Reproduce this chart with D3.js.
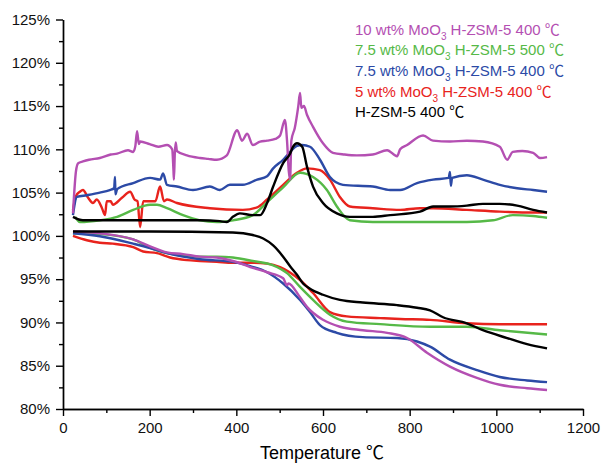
<!DOCTYPE html>
<html>
<head>
<meta charset="utf-8">
<script src="https://cdn.jsdelivr.net/npm/d3@7"></script>
<style>
  body { margin: 0; background: #fff; }
  svg { font-family: "Liberation Sans", Arial, sans-serif; }
  .axis path, .axis line { stroke: #000; stroke-width: 1.4; }
  .axis text { font-size: 15px; fill: #111; }
  .cel { font-family: "Noto Sans CJK SC", sans-serif; }
</style>
</head>
<body>
<div id="chart"></div>
<script>
// ---- data: [temperature (°C), weight %] ----
const mUp = [[23,102.6],[30,107.5],[35,108.4],[46,108.6],[60,108.8],[85,109.0],[110,109.4],[125,109.5],[150,109.9],[162,109.7],[167,110.4],[171,112.1],[175,110.6],[178,110.9],[200,110.6],[220,110.3],[240,110.5],[252,110.0],[255,107.5],[256,106.5],[258,109.5],[260,110.8],[263,109.8],[286,109.3],[316,109.0],[335,108.9],[355,108.8],[378,109.3],[402,112.2],[413,111.0],[425,111.8],[438,110.5],[455,110.9],[471,111.0],[490,111.2],[501,111.6],[512,113.4],[517,111.0],[521,107.5],[524,106.5],[527,111.0],[535,112.5],[543,115.0],[547,116.5],[550,114.8],[556,115.0],[563,114.0],[577,112.6],[600,110.7],[623,109.6],[650,109.4],[678,109.3],[715,109.4],[748,109.9],[771,109.2],[778,110.0],[794,110.5],[831,111.6],[854,111.0],[893,110.9],[932,111.0],[969,110.9],[1008,110.3],[1025,108.8],[1038,109.7],[1060,109.8],[1085,109.6],[1101,109.0],[1117,109.1]];
const gUp = [[28,102.2],[39,101.6],[85,101.8],[125,102.2],[162,103.0],[201,103.6],[217,103.6],[240,103.2],[277,102.4],[316,101.8],[355,101.6],[392,101.8],[438,102.4],[471,103.9],[508,105.6],[547,107.3],[577,106.8],[609,105.3],[632,103.4],[662,101.8],[715,101.6],[824,101.6],[932,101.6],[992,101.8],[1038,102.4],[1085,102.3],[1117,102.1]];
const bUp = [[23,102.4],[32,104.5],[55,104.7],[85,105.0],[108,105.3],[118,105.5],[120,106.8],[121,104.8],[125,105.4],[162,106.1],[201,106.7],[224,106.5],[231,107.2],[240,105.9],[263,105.7],[300,105.3],[339,105.7],[362,105.3],[385,105.9],[415,105.9],[448,106.5],[471,106.9],[485,107.8],[508,108.8],[524,109.7],[540,110.4],[552,110.5],[570,110.3],[593,108.8],[616,106.8],[646,105.9],[715,105.7],[755,105.3],[778,105.3],[817,106.1],[854,106.5],[890,106.7],[893,107.4],[895,105.8],[898,106.7],[932,107.0],[969,106.5],[1008,105.9],[1048,105.5],[1085,105.3],[1117,105.1]];
const rUp = [[23,103.0],[30,104.6],[39,105.1],[46,105.3],[58,104.4],[69,103.8],[78,104.2],[90,103.2],[97,102.4],[101,104.0],[110,104.0],[115,103.6],[136,104.4],[155,105.1],[165,104.2],[172,104.0],[178,101.0],[185,104.0],[213,104.0],[224,105.7],[233,104.0],[240,104.2],[263,103.8],[339,103.2],[415,103.0],[448,103.3],[471,104.2],[508,105.9],[540,107.3],[563,107.8],[593,107.6],[616,106.5],[639,104.5],[662,103.4],[715,103.2],[778,103.0],[824,103.2],[854,103.2],[932,103.0],[1008,102.8],[1085,102.7],[1117,102.7]];
const kUp = [[23,102.2],[46,101.8],[201,101.8],[316,101.8],[362,101.7],[378,101.6],[392,102.2],[408,102.6],[438,102.4],[455,102.4],[471,103.8],[485,105.7],[508,108.4],[524,109.5],[531,110.3],[540,110.7],[552,110.3],[563,108.0],[577,105.7],[600,103.8],[632,102.6],[662,102.2],[715,102.2],[755,102.4],[824,102.8],[854,103.4],[893,103.4],[932,103.5],[969,103.7],[1008,103.7],[1048,103.5],[1085,103.0],[1117,102.7]];

const mLo = [[23,100.5],[85,100.3],[162,99.6],[201,98.8],[240,98.1],[277,97.9],[316,97.6],[355,97.5],[392,97.1],[432,96.4],[471,95.8],[508,95.1],[517,94.3],[520,94.5],[547,92.9],[563,91.8],[600,90.3],[639,89.5],[692,89.1],[748,88.8],[794,88.2],[840,86.5],[893,84.9],[955,83.6],[1008,82.8],[1071,82.4],[1117,82.2]];
const gLo = [[23,100.3],[85,100.2],[162,99.6],[201,98.6],[240,98.0],[277,97.7],[316,97.6],[355,97.6],[392,97.5],[438,97.1],[485,96.6],[517,95.7],[547,94.1],[577,92.6],[616,90.9],[655,90.1],[732,89.8],[847,89.5],[932,89.5],[1008,89.1],[1117,88.6]];
const bLo = [[23,100.3],[85,99.96],[162,99.1],[201,98.6],[240,98.0],[277,97.6],[316,97.3],[392,97.0],[432,96.5],[471,95.8],[508,94.5],[547,92.6],[570,91.2],[593,89.7],[632,88.8],[692,88.3],[771,88.2],[817,87.8],[847,87.2],[893,85.7],[955,84.5],[1008,83.7],[1071,83.3],[1117,83.1]];
const rLo = [[23,100.0],[55,99.5],[85,99.2],[115,99.1],[162,98.7],[185,98.2],[217,98.0],[247,97.5],[286,97.2],[316,97.1],[355,97.0],[392,96.9],[432,96.9],[471,96.8],[501,96.4],[547,94.9],[577,93.4],[616,91.2],[655,90.7],[732,90.5],[778,90.4],[847,90.3],[932,89.9],[1008,89.8],[1117,89.8]];
const kLo = [[23,100.5],[200,100.5],[392,100.4],[438,100.1],[462,99.7],[485,98.9],[508,97.6],[524,96.5],[540,95.5],[554,94.5],[570,93.9],[600,93.2],[639,92.6],[692,92.3],[771,92.0],[817,91.7],[847,91.4],[877,90.6],[932,89.9],[969,89.1],[1025,88.2],[1071,87.5],[1117,87.0]];

const legendNames = ['10 wt% MoO3 H-ZSM-5 400 ℃', '7.5 wt% MoO3 H-ZSM-5 500 ℃', '7.5 wt% MoO3 H-ZSM-5 400 ℃', '5 wt% MoO3 H-ZSM-5 400 ℃', 'H-ZSM-5 400 ℃'];
const legendColors = ['#b44fb2', '#56b947', '#2c4aa6', '#e8231d', '#000000'];

const xTicks = [0, 200, 400, 600, 800, 1000, 1200];
const xMinor = [100, 300, 500, 700, 900, 1100];
const yTicks = [80, 85, 90, 95, 100, 105, 110, 115, 120, 125];
const yMinor = [82.5, 87.5, 92.5, 97.5, 102.5, 107.5, 112.5, 117.5, 122.5];

// series in drawing order, with their legend colour index
const series = [
  {data: rUp, c: 3}, {data: gUp, c: 1}, {data: bUp, c: 2}, {data: mUp, c: 0}, {data: kUp, c: 4},
  {data: rLo, c: 3}, {data: gLo, c: 1}, {data: bLo, c: 2}, {data: mLo, c: 0}, {data: kLo, c: 4}
];

const width = 601, height = 464;
const svg = d3.select('#chart').append('svg')
    .attr('width', width)
    .attr('height', height);

const x = d3.scaleLinear().domain([0, 1200]).range([63, 583]);
const y = d3.scaleLinear().domain([80, 125]).range([409, 19.5]);

// axes
svg.append('g').attr('class', 'axis')
    .attr('transform', `translate(0,${y(80)})`)
    .call(d3.axisBottom(x).tickValues(xTicks).tickSize(7).tickSizeOuter(0).tickPadding(6).tickFormat(d3.format('d')));
svg.append('g').attr('class', 'axis')
    .attr('transform', `translate(0,${y(80)})`)
    .call(d3.axisBottom(x).tickValues(xMinor).tickSize(4).tickSizeOuter(0).tickFormat(''));
svg.append('g').attr('class', 'axis')
    .attr('transform', `translate(${x(0)},0)`)
    .call(d3.axisLeft(y).tickValues(yTicks).tickSize(7).tickSizeOuter(0).tickPadding(6).tickFormat(d => d + '%'));
svg.append('g').attr('class', 'axis')
    .attr('transform', `translate(${x(0)},0)`)
    .call(d3.axisLeft(y).tickValues(yMinor).tickSize(4).tickSizeOuter(0).tickFormat(''));

const xl = svg.append('text')
    .attr('x', 322).attr('y', 459)
    .attr('text-anchor', 'middle')
    .style('font-size', '18px');
xl.append('tspan').text('Temperature ');
xl.append('tspan').attr('class', 'cel').text('℃');

// curves
const line = d3.line().x(d => x(d[0])).y(d => y(d[1])).curve(d3.curveMonotoneX);
svg.append('g').selectAll('path')
    .data(series)
    .join('path')
    .attr('d', d => line(d.data))
    .attr('fill', 'none')
    .attr('stroke', d => legendColors[d.c])
    .attr('stroke-width', 2.4)
    .attr('stroke-linejoin', 'round');

// legend
const lg = svg.append('g').attr('transform', 'translate(355,34.5)');
const items = lg.selectAll('text')
    .data(legendNames)
    .join('text')
    .attr('y', (d, i) => i * 20.7)
    .attr('fill', (d, i) => legendColors[i])
    .style('font-size', '15px');
items.each(function(d){
    const t = d3.select(this);
    const name = d.replace(' ℃', ' ');
    const parts = name.split('MoO3');
    if (parts.length === 1) {
        t.append('tspan').text(parts[0]);
    } else {
        t.append('tspan').text(parts[0] + 'MoO');
        t.append('tspan').attr('dy', 5).style('font-size', '10px').text('3');
        t.append('tspan').attr('dy', -5).text(parts[1]);
    }
    t.append('tspan').attr('class', 'cel').text('℃');
});
</script>
</body>
</html>
